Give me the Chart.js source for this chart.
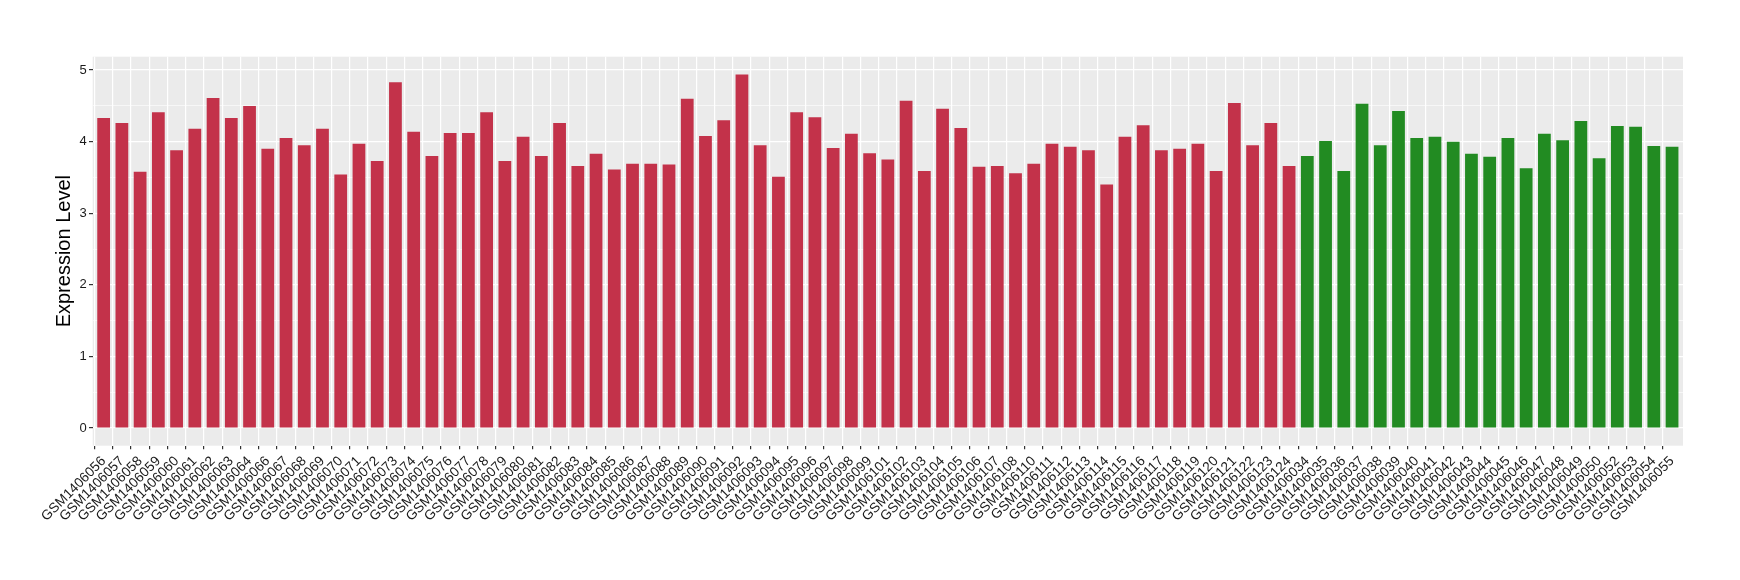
<!DOCTYPE html>
<html>
<head>
<meta charset="utf-8">
<script src="https://cdn.jsdelivr.net/npm/chart.js@4/dist/chart.umd.min.js"></script>
<style>
  html, body { margin: 0; padding: 0; background: #ffffff; }
  #wrap { width: 1740px; height: 580px; }
</style>
</head>
<body>
<div id="wrap"><canvas id="c" width="1740" height="580"></canvas></div>
<script>
// Tumor group (red)
const redLabels = [
  "GSM1406056","GSM1406057","GSM1406058","GSM1406059","GSM1406060","GSM1406061","GSM1406062","GSM1406063","GSM1406064",
  "GSM1406066","GSM1406067","GSM1406068","GSM1406069","GSM1406070","GSM1406071","GSM1406072","GSM1406073","GSM1406074","GSM1406075",
  "GSM1406076","GSM1406077","GSM1406078","GSM1406079","GSM1406080","GSM1406081","GSM1406082","GSM1406083","GSM1406084","GSM1406085",
  "GSM1406086","GSM1406087","GSM1406088","GSM1406089","GSM1406090","GSM1406091","GSM1406092","GSM1406093","GSM1406094","GSM1406095",
  "GSM1406096","GSM1406097","GSM1406098","GSM1406099",
  "GSM1406101","GSM1406102","GSM1406103","GSM1406104","GSM1406105","GSM1406106","GSM1406107","GSM1406108",
  "GSM1406110","GSM1406111","GSM1406112","GSM1406113","GSM1406114","GSM1406115","GSM1406116","GSM1406117","GSM1406118",
  "GSM1406119","GSM1406120","GSM1406121","GSM1406122","GSM1406123","GSM1406124"
];
const redValues = [
  4.33,4.26,3.58,4.41,3.88,4.18,4.61,4.33,4.50,
  3.90,4.05,3.95,4.18,3.54,3.97,3.73,4.83,4.14,3.80,
  4.12,4.12,4.41,3.73,4.07,3.80,4.26,3.66,3.83,3.61,
  3.69,3.69,3.68,4.60,4.08,4.30,4.94,3.95,3.51,4.41,
  4.34,3.91,4.11,3.84,
  3.75,4.57,3.59,4.46,4.19,3.65,3.66,3.56,
  3.69,3.97,3.93,3.88,3.40,4.07,4.23,3.88,3.90,
  3.97,3.59,4.54,3.95,4.26,3.66
];
// Normal group (green)
const greenLabels = [
  "GSM1406034","GSM1406035","GSM1406036","GSM1406037","GSM1406038","GSM1406039","GSM1406040","GSM1406041","GSM1406042",
  "GSM1406043","GSM1406044","GSM1406045","GSM1406046","GSM1406047","GSM1406048","GSM1406049","GSM1406050",
  "GSM1406052","GSM1406053","GSM1406054","GSM1406055"
];
const greenValues = [
  3.80,4.01,3.59,4.53,3.95,4.43,4.05,4.07,4.00,
  3.83,3.79,4.05,3.63,4.11,4.02,4.29,3.77,
  4.22,4.21,3.94,3.93
];
const yTicks = [0, 1, 2, 3, 4, 5];
const yTitle = "Expression Level";

const redColor = "#C3324A";
const greenColor = "#228B22";

const allLabels = redLabels.concat(greenLabels);
const n = allLabels.length;
const redData = redValues.map((v, i) => ({ x: i, y: v }));
const greenData = greenValues.map((v, i) => ({ x: redLabels.length + i, y: v }));

const yGridVals = [];
for (let i = 0; i < yTicks.length; i++) {
  yGridVals.push(yTicks[i]);
  if (i < yTicks.length - 1) yGridVals.push((yTicks[i] + yTicks[i + 1]) / 2);
}

const isCat = (ctx) => ctx.tick && Number.isInteger(ctx.tick.value) && ctx.tick.value >= 0 && ctx.tick.value < n;

const panelBg = {
  id: 'panelBg',
  beforeDraw(chart) {
    const { ctx, chartArea: a } = chart;
    ctx.save();
    ctx.fillStyle = '#EBEBEB';
    ctx.fillRect(a.left, a.top, a.right - a.left, a.bottom - a.top);
    ctx.restore();
  }
};

new Chart(document.getElementById('c'), {
  type: 'bar',
  data: {
    datasets: [
      { label: 'Tumor', data: redData, backgroundColor: redColor, grouped: false,
        barPercentage: 0.7, categoryPercentage: 1.0 },
      { label: 'Normal', data: greenData, backgroundColor: greenColor, grouped: false,
        barPercentage: 0.7, categoryPercentage: 1.0 }
    ]
  },
  options: {
    responsive: false,
    animation: false,
    devicePixelRatio: 1,
    layout: { padding: { left: 0, right: 57, top: 56.7, bottom: 0 } },
    plugins: { legend: { display: false }, tooltip: { enabled: false } },
    scales: {
      x: {
        type: 'linear',
        offset: false,
        min: -0.6,
        max: n - 1 + 0.6,
        afterBuildTicks(scale) { scale.ticks = allLabels.map((_, i) => ({ value: i })); },
        afterFit(scale) { scale.height = 580 - 445.7; },
        border: { display: false },
        grid: {
          color: (ctx) => isCat(ctx) ? '#FFFFFF' : 'rgba(0,0,0,0)',
          lineWidth: 1.2,
          tickColor: (ctx) => isCat(ctx) ? '#333333' : 'rgba(0,0,0,0)',
          tickLength: 3.5,
          drawTicks: true
        },
        ticks: {
          autoSkip: false,
          maxRotation: 45,
          minRotation: 45,
          padding: 4,
          color: '#1A1A1A',
          font: { family: 'Liberation Sans, Arial, sans-serif', size: 13.7 },
          callback: (v) => (Number.isInteger(v) && v >= 0 && v < n) ? allLabels[v] : ''
        }
      },
      y: {
        min: -0.247,
        max: 5.187,
        afterBuildTicks(scale) { scale.ticks = yGridVals.map(v => ({ value: v })); },
        afterFit(scale) { scale.width = 92.7; },
        border: { display: false },
        grid: {
          color: '#FFFFFF',
          lineWidth: (ctx) => (ctx.tick && Number.isInteger(ctx.tick.value)) ? 1.2 : 0.6,
          tickColor: (ctx) => (ctx.tick && Number.isInteger(ctx.tick.value)) ? '#333333' : 'rgba(0,0,0,0)',
          tickLength: 3.7,
          drawTicks: true
        },
        ticks: {
          padding: 2.3,
          color: '#1A1A1A',
          font: { family: 'Liberation Sans, Arial, sans-serif', size: 13 },
          callback: (v) => Number.isInteger(v) ? String(v) : ''
        },
        title: {
          display: true,
          text: yTitle,
          color: '#000000',
          font: { family: 'Liberation Sans, Arial, sans-serif', size: 20 },
          padding: { top: 52.3, bottom: 0 }
        }
      }
    }
  },
  plugins: [panelBg]
});
</script>
</body>
</html>
